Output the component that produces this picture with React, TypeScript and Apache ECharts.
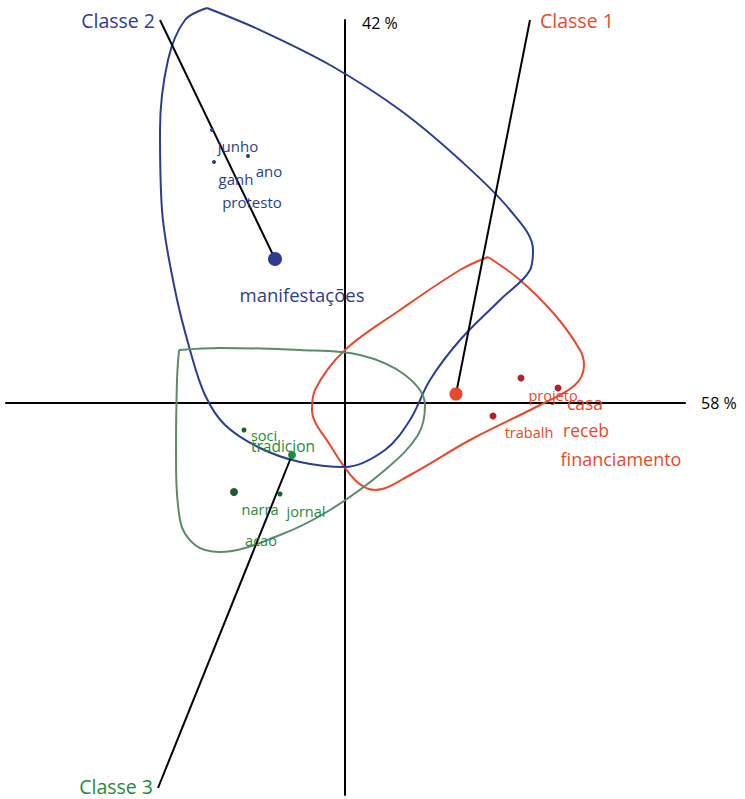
import React, { useEffect, useRef } from "react";
import * as echarts from "echarts";

// Factorial plane coordinates (axis 1 = 58 %, axis 2 = 42 %)
const axisXName = "58 %";
const axisYName = "42 %";

const classNames = ["Classe 1", "Classe 2", "Classe 3"];
const classColors = ["#E8492C", "#2C3D8F", "#1E8C3A"];
const hullColors = ["#E8492C", "#2C3D8F", "#5E8A6C"];
const dotColors = ["#B3222B", "#2C3D8F", "#1B5C2E"];

// class centroids
const centroids: [number, number][] = [
  [1.11, 0.09],
  [-0.7, 1.44],
  [-0.53, -0.52],
];
const centroidSizes = [13, 14, 8];
// ends of the class pointer lines
const classLineEnds: [number, number][] = [
  [1.85, 3.83],
  [-1.85, 3.83],
  [-1.87, -3.85],
];

// word points
const dots1: [number, number, number][] = [
  [1.76, 0.25, 7],
  [2.13, 0.15, 7],
  [1.48, -0.13, 7],
];
const dots2: [number, number, number][] = [
  [-1.33, 2.73, 4],
  [-1.31, 2.41, 4],
  [-0.97, 2.47, 4],
];
const dots3: [number, number, number][] = [
  [-1.01, -0.27, 5],
  [-1.11, -0.89, 8],
  [-0.65, -0.91, 5],
];

// word labels [x, y, word, fontSize]
const words1: [number, number, string, number][] = [
  [2.08, 0.08, "projeto", 14.5],
  [2.4, 0.0, "casa", 17.5],
  [1.84, -0.29, "trabalh", 14.5],
  [2.41, -0.27, "receb", 17.5],
  [2.76, -0.56, "financiamento", 18],
];
const words2: [number, number, string, number][] = [
  [-1.07, 2.57, "junho", 15],
  [-0.76, 2.32, "ano", 15],
  [-1.09, 2.24, "ganh", 15],
  [-0.93, 2.01, "protesto", 15],
  [-0.43, 1.09, "manifestações", 18.5],
];
const words3: [number, number, string, number][] = [
  [-0.81, -0.32, "soci", 14.5],
  [-0.62, -0.43, "tradicion", 15.5],
  [-0.85, -1.06, "narra", 14.5],
  [-0.39, -1.08, "jornal", 14.5],
  [-0.84, -1.37, "acao", 14.5],
];

// hull outlines
const hull1: [number, number][] = [
  [1.43, 1.46], [1.75, 1.23], [2.1, 0.88], [2.35, 0.53], [2.39, 0.38],
  [2.3, 0.18], [1.95, -0.02], [1.25, -0.37], [0.65, -0.72], [0.3, -0.87],
  [0.1, -0.77], [-0.15, -0.42], [-0.33, -0.07], [-0.3, 0.13], [0.0, 0.53],
  [0.55, 0.93], [1.15, 1.33],
];
const hull2: [number, number][] = [
  [-1.38, 3.95], [-0.85, 3.73], [-0.15, 3.38], [0.55, 2.93], [1.15, 2.43],
  [1.65, 1.93], [1.88, 1.53], [1.85, 1.33], [1.55, 1.03], [1.15, 0.63],
  [0.85, 0.23], [0.65, -0.17], [0.4, -0.47], [0.0, -0.64], [-0.45, -0.59],
  [-0.85, -0.45], [-1.2, -0.22], [-1.4, 0.08], [-1.55, 0.53], [-1.7, 1.13],
  [-1.83, 1.93], [-1.85, 2.73], [-1.77, 3.43], [-1.6, 3.83],
];
const hull3: [number, number][] = [
  [-1.66, 0.53], [-1.25, 0.55], [-0.45, 0.53], [0.15, 0.48], [0.6, 0.28],
  [0.8, -0.02], [0.73, -0.32], [0.4, -0.67], [-0.15, -1.07], [-0.65, -1.32],
  [-1.25, -1.49], [-1.5, -1.42], [-1.65, -1.17], [-1.69, -0.47], [-1.68, 0.23],
];

const FONT = "Open Sans";

export default function App() {
  const ref = useRef<HTMLDivElement>(null);
  useEffect(() => {
    if (!ref.current) return;
    const chart = echarts.init(ref.current, undefined, { renderer: "svg" });
    const hulls = [hull1, hull2, hull3];
    const dots = [dots1, dots2, dots3];
    const words = [words1, words2, words3];
    const labelPos = ["right", "left", "left"];
    const series: any[] = [];
    hulls.forEach((h, i) => {
      series.push({
        type: "line",
        data: [...h, h[0]],
        smooth: 0.35,
        symbol: "none",
        clip: false,
        lineStyle: { color: hullColors[i], width: 2 },
        z: 2,
      });
    });
    classNames.forEach((name, i) => {
      series.push({
        type: "line",
        data: [classLineEnds[i], centroids[i]],
        symbol: "none",
        clip: false,
        lineStyle: { color: "#000", width: 2 },
        z: 3,
      });
      series.push({
        type: "scatter",
        data: [{ value: classLineEnds[i], name }],
        symbolSize: 0,
        clip: false,
        itemStyle: { opacity: 1 },
        label: {
          show: true,
          position: labelPos[i],
          distance: i === 0 ? 10 : 5,
          offset: i === 2 ? [0, -2] : [0, 0],
          formatter: name,
          color: classColors[i],
          fontSize: 19.5,
          lineHeight: 20,
          fontFamily: FONT,
        },
        z: 5,
      });
    });
    dots.forEach((d, i) => {
      series.push({
        type: "scatter",
        data: d.map((p) => ({ value: [p[0], p[1]], symbolSize: p[2] })),
        itemStyle: { color: dotColors[i], opacity: 1 },
        z: 4,
      });
      series.push({
        type: "scatter",
        data: [{ value: centroids[i], symbolSize: centroidSizes[i] }],
        itemStyle: { color: i === 2 ? "#1E8C3A" : classColors[i], opacity: 1 },
        z: 6,
      });
    });
    words.forEach((w, i) => {
      series.push({
        type: "scatter",
        symbolSize: 0,
        itemStyle: { opacity: 1 },
        data: w.map((p) => ({
          value: [p[0], p[1]],
          name: p[2],
          label: { fontSize: p[3] },
        })),
        label: {
          show: true,
          position: "inside",
          formatter: "{b}",
          color: classColors[i],
          fontFamily: FONT,
        },
        z: 7,
      });
    });
    chart.setOption({
      animation: false,
      grid: { left: 6, right: 60, top: 20, bottom: 4 },
      xAxis: {
        type: "value",
        min: -3.39,
        max: 3.4,
        name: axisXName,
        nameLocation: "end",
        nameGap: 16,
        nameTextStyle: { color: "#000", fontSize: 16, fontFamily: FONT, align: "left" },
        axisLine: { onZero: true, lineStyle: { color: "#000", width: 2 } },
        axisTick: { show: false },
        axisLabel: { show: false },
        splitLine: { show: false },
      },
      yAxis: {
        type: "value",
        min: -3.92,
        max: 3.83,
        name: axisYName,
        nameLocation: "end",
        nameGap: -3,
        nameTextStyle: {
          color: "#000",
          fontSize: 16,
          fontFamily: FONT,
          align: "left",
          verticalAlign: "middle",
          padding: [0, 0, 0, 17],
        },
        axisLine: { onZero: true, lineStyle: { color: "#000", width: 2 } },
        axisTick: { show: false },
        axisLabel: { show: false },
        splitLine: { show: false },
      },
      series,
    });
    return () => chart.dispose();
  }, []);
  return (
    <div
      ref={ref}
      style={{ position: "absolute", left: 0, top: 0, width: 745, height: 799, background: "#fff" }}
    />
  );
}
